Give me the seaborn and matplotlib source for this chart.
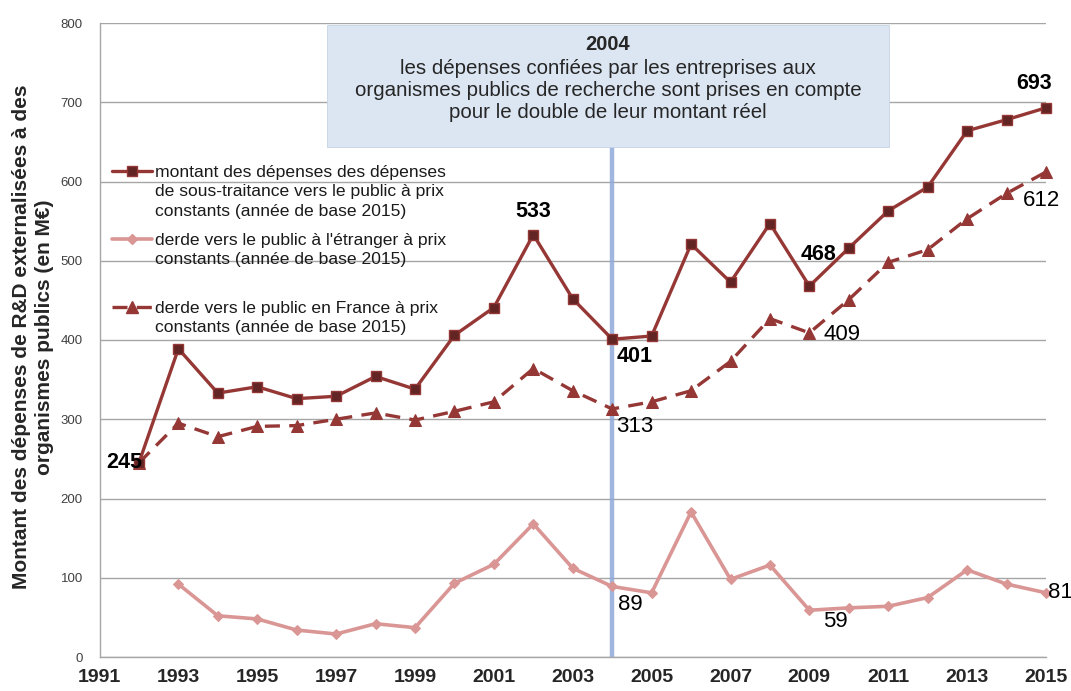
import numpy as np
import pandas as pd
import matplotlib
matplotlib.use('Agg')
import matplotlib.pyplot as plt
from matplotlib.patches import Rectangle
from matplotlib.lines import Line2D
import seaborn as sns

# values (M€, constant 2015 prices)
years = list(range(1992, 2016))
total = [245, 389, 333, 341, 326, 329, 354, 338, 406, 441, 533, 452,
         401, 405, 521, 473, 547, 468, 516, 563, 593, 664, 678, 693]
france = [245, 295, 278, 291, 292, 300, 308, 299, 310, 322, 364, 336,
          313, 322, 336, 373, 427, 409, 451, 498, 514, 553, 585, 612]
years_abroad = list(range(1993, 2016))
abroad = [92, 52, 48, 34, 29, 42, 37, 93, 117, 168, 112,
          89, 81, 183, 98, 116, 59, 62, 64, 75, 110, 92, 81]

x_ticks = list(range(1991, 2016, 2))
y_ticks = list(range(0, 801, 100))

labels = [
    "montant des dépenses des dépenses\nde sous-traitance vers le public à prix\nconstants (année de base 2015)",
    "derde vers le public à l'étranger à prix\nconstants (année de base 2015)",
    "derde vers le public en France à prix\nconstants (année de base 2015)",
]
box_title = "2004"
box_text = ("les dépenses confiées par les entreprises aux\n"
            "organismes publics de recherche sont prises en compte\n"
            "pour le double de leur montant réel")
ylabel = "Montant des dépenses de R&D externalisées à des\norganismes publics (en M€)"
event_year = 2004

# value labels: (series, year, bold)
label_points = [
    ('total', 1992, True), ('total', 2002, True), ('total', 2004, True),
    ('total', 2009, True), ('total', 2015, True),
    ('france', 2004, False), ('france', 2009, False), ('france', 2015, False),
    ('abroad', 2004, False), ('abroad', 2009, False), ('abroad', 2015, False),
]

series = {
    'total': dict(zip(years, total)),
    'france': dict(zip(years, france)),
    'abroad': dict(zip(years_abroad, abroad)),
}

# pixel offsets / alignment of each value label
label_style = {
    ('total', 1992): ((3, 0), 'right'),
    ('total', 2002): ((0, 23), 'center'),
    ('total', 2004): ((4, -17), 'left'),
    ('total', 2009): ((9, 32), 'center'),
    ('total', 2015): ((-12, 24), 'center'),
    ('france', 2004): ((4, -18), 'left'),
    ('france', 2009): ((14, -2), 'left'),
    ('france', 2015): ((-5, -29), 'center'),
    ('abroad', 2004): ((6, -18), 'left'),
    ('abroad', 2009): ((14, -11), 'left'),
    ('abroad', 2015): ((2, 0), 'left'),
}

c_total = '#953735'
c_total_mk = '#632523'
c_france = '#953735'
c_abroad = '#d99694'
grid_c = '#a6a6a6'

sns.set_theme(style='white')
plt.rcParams['font.family'] = ['Liberation Sans', 'DejaVu Sans']

W, H = 1071, 691
fig = plt.figure(figsize=(W / 100, H / 100), dpi=100)
ax_l, ax_r, ax_t, ax_b = 99.5, 1046, 23, 657
ax = fig.add_axes([ax_l / W, (H - ax_b) / H, (ax_r - ax_l) / W, (ax_b - ax_t) / H])


def ax_x(px):
    return (px - ax_l) / (ax_r - ax_l)


def ax_y(py):
    return (ax_b - py) / (ax_b - ax_t)


ax.set_xlim(1991, 2015)
ax.set_ylim(0, 800)
ax.set_xticks(x_ticks)
ax.set_yticks(y_ticks)
ax.yaxis.grid(True, color=grid_c, lw=1)
ax.set_axisbelow(True)
for s in ['top', 'right']:
    ax.spines[s].set_visible(False)
for s in ['left', 'bottom']:
    ax.spines[s].set_color(grid_c)
    ax.spines[s].set_linewidth(1)
ax.tick_params(axis='x', direction='out', length=5, width=1, color=grid_c,
               labelsize=14, pad=4)
ax.tick_params(axis='y', direction='out', length=4, width=1, color=grid_c,
               labelsize=9.5, labelcolor='#404040', pad=8)
for t in ax.get_xticklabels():
    t.set_fontweight('bold')

# event line
ax.axvline(event_year, ymin=0, ymax=ax_y(147), color='#8eaadb', lw=3.2,
           alpha=0.85, zorder=1)

# series
sns.lineplot(x=years_abroad, y=abroad, ax=ax, color=c_abroad, lw=2.6,
             marker='D', markersize=5.5, markerfacecolor=c_abroad,
             markeredgecolor=c_abroad, clip_on=False, zorder=3)
sns.lineplot(x=years, y=france, ax=ax, color=c_france, lw=2.4,
             linestyle=(0, (4.5, 2.8)), marker='^', markersize=8.5,
             markerfacecolor=c_france, markeredgecolor=c_france,
             clip_on=False, zorder=4)
sns.lineplot(x=years, y=total, ax=ax, color=c_total, lw=2.4,
             marker='s', markersize=7.5, markerfacecolor=c_total_mk,
             markeredgecolor=c_total, markeredgewidth=1,
             clip_on=False, zorder=5)

# value labels
for key, yr, bold in label_points:
    val = series[key][yr]
    off, ha = label_style[(key, yr)]
    ax.annotate(f"{val}", xy=(yr, val), xytext=off, textcoords='offset pixels',
                ha=ha, va='center', fontsize=15.5 if bold else 16,
                fontweight='bold' if bold else 'normal', color='black',
                zorder=6)

# text box for 2004
ax.add_patch(Rectangle((ax_x(327), ax_y(147)), ax_x(889) - ax_x(327),
                       ax_y(25) - ax_y(147), transform=ax.transAxes,
                       facecolor='#dce6f2', edgecolor='#c6d3e6', lw=0.6,
                       zorder=7, clip_on=False))
cx = ax_x(608)
ax.text(cx, ax_y(45), box_title, transform=ax.transAxes, ha='center',
        va='center', fontsize=14.5, fontweight='bold', zorder=8)
ax.text(cx, ax_y(90.5), box_text, transform=ax.transAxes, ha='center',
        va='center', fontsize=14.8, linespacing=1.21, zorder=8)

# legend drawn by hand so the key sits on the first line of each label
legend_items = [
    (170.5, dict(color=c_total, lw=2.4, marker='s', markersize=7.5,
                 markerfacecolor=c_total_mk, markeredgecolor=c_total)),
    (238.5, dict(color=c_abroad, lw=2.6, marker='D', markersize=5.5,
                 markerfacecolor=c_abroad, markeredgecolor=c_abroad)),
    (306.5, dict(color=c_france, lw=2.4, linestyle=(0, (4.5, 2.8)), marker='^',
                 markersize=8.5, markerfacecolor=c_france,
                 markeredgecolor=c_france)),
]
for (py, kw), lab in zip(legend_items, labels):
    ln = Line2D([ax_x(112), ax_x(152)], [ax_y(py), ax_y(py)],
                transform=ax.transAxes, markevery=[], **kw)
    ax.add_line(ln)
    ax.add_line(Line2D([ax_x(132)], [ax_y(py)], transform=ax.transAxes,
                       **{k: v for k, v in kw.items() if k not in ('linestyle',)}))
    ax.text(ax_x(155), ax_y(py - 5.5), lab, transform=ax.transAxes,
            ha='left', va='top', fontsize=12.6, linespacing=1.36,
            color='#1a1a1a')

fig.text(33 / W, (H - 337) / H, ylabel, rotation=90, ha='center', va='center',
         fontsize=15, fontweight='bold', linespacing=1.28)

fig.savefig('out.png', dpi=100)
